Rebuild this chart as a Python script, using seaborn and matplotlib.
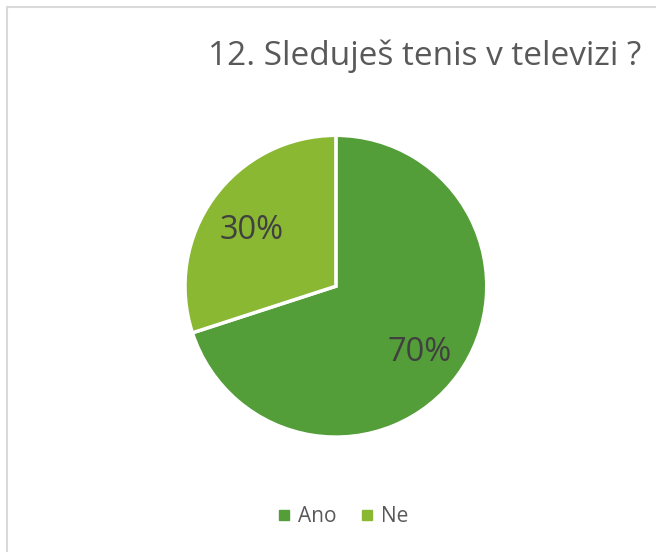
import matplotlib
matplotlib.use("Agg")
import matplotlib.pyplot as plt
import seaborn as sns
from matplotlib.lines import Line2D

categories = ["Ano", "Ne"]
values = [70, 30]
colors = ["#549E39", "#8AB833"]
title = "12. Sleduješ tenis v televizi ?"

sns.set_theme(style="white")
plt.rcParams['font.family'] = ['Open Sans', 'DejaVu Sans']

fig = plt.figure(figsize=(6.56, 5.52), dpi=100)
fig.patch.set_facecolor("white")

# chart border (left and top visible)
fig.add_artist(Line2D([7/656, 7/656], [0, 1 - 7/552], color="#D9D9D9", lw=1.5, transform=fig.transFigure))
fig.add_artist(Line2D([7/656, 1], [1 - 7/552, 1 - 7/552], color="#D9D9D9", lw=1.5, transform=fig.transFigure))

ax = fig.add_axes([0.282, 0.208, 0.460, 0.547])
wedges, texts, autotexts = ax.pie(
    values, colors=colors, startangle=90, counterclock=False,
    autopct=lambda p: f"{p:.0f}%", pctdistance=0.69,
    wedgeprops=dict(edgecolor="white", linewidth=2.5),
    textprops=dict(color="#404040", fontsize=23.5),
)
for t in autotexts:
    x, y = t.get_position()
    t.set_position((x, y - 0.035))
ax.set_xlim(-1.0, 1.0)
ax.set_ylim(-1.0, 1.0)
ax.set_aspect("equal")

fig.text(425/656, 1 - 56/552, title, ha="center", va="center", fontsize=24, color="#595959")

handles = [plt.Line2D([0], [0], marker="s", linestyle="", markersize=7,
                      markerfacecolor=c, markeredgecolor=c) for c in colors]
fig.legend(handles, categories, loc="center", bbox_to_anchor=(341/656, 1 - 517/552),
           ncol=2, frameon=False, fontsize=15, labelcolor="#595959",
           handletextpad=0.15, columnspacing=1.0, handlelength=1.0)

fig.savefig("out.png", dpi=100, facecolor="white")
